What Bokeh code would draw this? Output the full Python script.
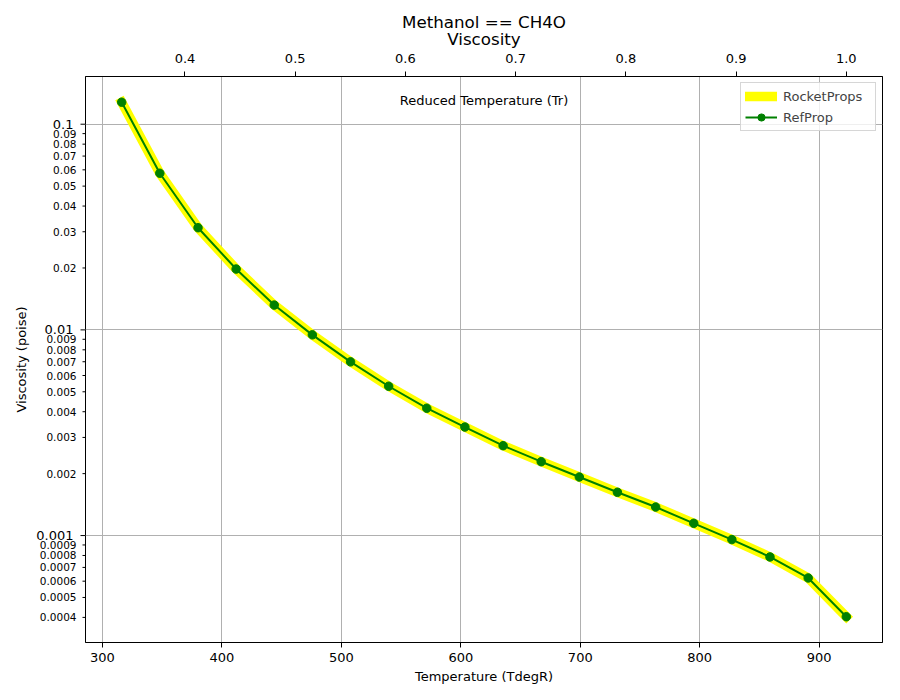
import math
from bokeh.plotting import figure
from bokeh.layouts import row
from bokeh.models import Range1d, LinearAxis, FixedTicker, PrintfTickFormatter, Label
from bokeh.embed import file_html
from bokeh.resources import INLINE

# Methanol (CH4O) liquid viscosity from triple point to critical point
temperature_R = [316.1, 348.0, 380.0, 411.9, 443.8, 475.7, 507.7, 539.6, 571.5, 603.4,
                 635.4, 667.3, 699.2, 731.1, 763.1, 795.0, 826.9, 858.8, 890.8, 922.7]
visc_rocketprops = [0.1279, 0.05775, 0.03139, 0.01976, 0.01320, 0.00946, 0.00699, 0.00532,
                    0.00416, 0.00337, 0.002735, 0.002286, 0.001926, 0.001623, 0.001376,
                    0.001147, 0.000956, 0.000787, 0.000622, 0.000403]
visc_refprop = [0.1279, 0.05775, 0.03139, 0.01976, 0.01320, 0.00946, 0.00699, 0.00532,
                0.00416, 0.00337, 0.002735, 0.002286, 0.001926, 0.001623, 0.001376,
                0.001147, 0.000956, 0.000787, 0.000622, 0.000403]
T_crit = 922.7

x_ticks = [300, 400, 500, 600, 700, 800, 900]
tr_ticks = [0.4, 0.5, 0.6, 0.7, 0.8, 0.9, 1.0]
y_major = [0.001, 0.01, 0.1]
y_major_labels = ["0.001", "0.01", "0.1"]
y_minor = [0.0004, 0.0005, 0.0006, 0.0007, 0.0008, 0.0009,
           0.002, 0.003, 0.004, 0.005, 0.006, 0.007, 0.008, 0.009,
           0.02, 0.03, 0.04, 0.05, 0.06, 0.07, 0.08, 0.09]
y_minor_labels = ["0.0004", "0.0005", "0.0006", "0.0007", "0.0008", "0.0009",
                  "0.002", "0.003", "0.004", "0.005", "0.006", "0.007", "0.008", "0.009",
                  "0.02", "0.03", "0.04", "0.05", "0.06", "0.07", "0.08", "0.09"]

x_lo, x_hi = 285.8, 953.0
y_lo, y_hi = 0.000302, 0.1706

FONT = "DejaVu Sans"
TOP, BOTTOM, LEFT_W = 76, 58, 85

y_range = Range1d(y_lo, y_hi)

# ---- main plot -------------------------------------------------------------
p = figure(width=900 - LEFT_W, height=700,
           x_range=Range1d(x_lo, x_hi), y_range=y_range,
           y_axis_type="log", output_backend="svg", toolbar_location=None,
           min_border_left=0, min_border_right=18, min_border_top=TOP, min_border_bottom=BOTTOM)
p.background_fill_color = "white"
p.border_fill_color = "white"
p.outline_line_color = "black"
p.outline_line_width = 1
p.yaxis.visible = False

# bottom axis: temperature
xa = p.xaxis[0]
xa.ticker = FixedTicker(ticks=x_ticks, minor_ticks=[])
xa.axis_label = "Temperature (TdegR)"

# top axis: reduced temperature, carrying the two-line heading as its label
p.extra_x_ranges = {"tr": Range1d(x_lo / T_crit, x_hi / T_crit)}
top = LinearAxis(x_range_name="tr", ticker=FixedTicker(ticks=tr_ticks, minor_ticks=[]),
                 formatter=PrintfTickFormatter(format="%.1f"),
                 axis_label="Methanol == CH4O\nViscosity")
p.add_layout(top, "above")

for ax in (xa, top):
    ax.axis_line_color = "black"
    ax.axis_line_width = 1
    ax.major_tick_in = 0
    ax.major_tick_out = 5
    ax.minor_tick_in = 0
    ax.minor_tick_out = 0
    ax.major_tick_line_color = "black"
    ax.major_label_text_font = FONT
    ax.major_label_text_font_size = "13px"
    ax.major_label_text_color = "black"
    ax.axis_label_text_font = FONT
    ax.axis_label_text_font_size = "13px"
    ax.axis_label_text_font_style = "normal"
    ax.axis_label_text_color = "black"
xa.major_label_standoff = 5
xa.axis_label_standoff = 4
top.major_label_standoff = 9
top.axis_label_standoff = 2
top.axis_label_text_font_size = "16.7px"
top.axis_label_text_line_height = 0.85
top.axis_label_text_align = "center"

p.xgrid.grid_line_color = "#b0b0b0"
p.xgrid.grid_line_width = 1
p.ygrid.grid_line_color = "#b0b0b0"
p.ygrid.grid_line_width = 1
p.ygrid.ticker = FixedTicker(ticks=y_major, minor_ticks=[])

p.add_layout(Label(x=(x_lo + x_hi) / 2, y=y_hi, y_offset=-24, text="Reduced Temperature (Tr)",
                   text_align="center", text_baseline="middle", text_font=FONT,
                   text_font_size="13px", text_color="black"))

# data
p.line(temperature_R, visc_rocketprops, line_color="yellow", line_width=9.5,
       line_cap="square", line_join="round", legend_label="RocketProps")
p.line(temperature_R, visc_refprop, line_color="green", line_width=2, legend_label="RefProp")
p.scatter(temperature_R, visc_refprop, marker="circle", size=8.5, fill_color="green",
          line_color="green", legend_label="RefProp")

lg = p.legend[0]
lg.location = "top_right"
lg.margin = 6
lg.padding = 4
lg.spacing = 3
lg.glyph_width = 32
lg.glyph_height = 18
lg.label_height = 18
lg.label_width = 88
lg.label_standoff = 6
lg.label_text_font = FONT
lg.label_text_font_size = "13px"
lg.border_line_color = "#cccccc"
lg.border_line_alpha = 0.8
lg.background_fill_alpha = 0.8

# ---- left strip: log axis ticks and labels for the viscosity scale ------------
ax_left = figure(width=LEFT_W, height=700, x_range=Range1d(0, LEFT_W), y_range=y_range,
                 y_axis_type="log", x_axis_location=None, y_axis_location=None,
                 output_backend="svg", toolbar_location=None,
                 min_border_left=0, min_border_right=0, min_border_top=TOP, min_border_bottom=BOTTOM)
ax_left.outline_line_color = None
ax_left.background_fill_color = "white"
ax_left.border_fill_color = "white"
ax_left.grid.visible = False

ax_left.segment(x0=[LEFT_W - 5] * len(y_major), y0=y_major, x1=[LEFT_W] * len(y_major), y1=y_major,
                line_color="black", line_width=1)
ax_left.segment(x0=[LEFT_W - 3] * len(y_minor), y0=y_minor, x1=[LEFT_W] * len(y_minor), y1=y_minor,
                line_color="black", line_width=1)
ax_left.text(x=[LEFT_W - 12] * len(y_major), y=y_major, text=y_major_labels,
             text_align="right", text_baseline="middle", text_font={"value": FONT},
             text_font_size="13px", text_color="black")
ax_left.text(x=[LEFT_W - 9] * len(y_minor), y=y_minor, text=y_minor_labels,
             text_align="right", text_baseline="middle", text_font={"value": FONT},
             text_font_size="10.5px", text_color="black")
ax_left.text(x=[21], y=[math.sqrt(y_lo * y_hi)], text=["Viscosity (poise)"], angle=math.pi / 2,
             text_align="center", text_baseline="middle", text_font={"value": FONT},
             text_font_size="13px", text_color="black")

layout = row(ax_left, p, spacing=0)
open("out.html", "w").write(file_html(layout, INLINE))
